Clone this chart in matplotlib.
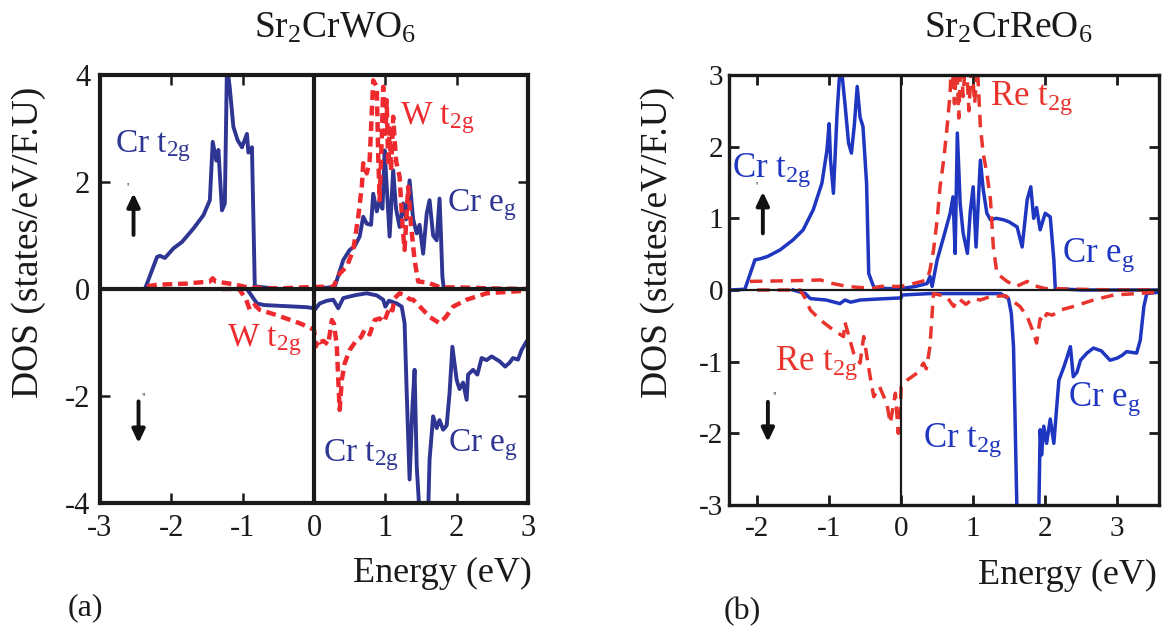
import matplotlib
matplotlib.use("Agg")
import matplotlib.pyplot as plt

plt.rcParams['font.family'] = ['Liberation Serif', 'DejaVu Serif']
plt.rcParams['mathtext.fontset'] = 'custom'
plt.rcParams['mathtext.rm'] = 'Liberation Serif'
plt.rcParams['mathtext.it'] = 'Liberation Serif:italic'
plt.rcParams['mathtext.bf'] = 'Liberation Serif:bold'

# ---------------- data: panel (a) Sr2CrWO6 ----------------
a_cr_up_E = [-2.6, -2.37, -2.20, -2.16, -2.09, -1.97, -1.85, -1.69, -1.55, -1.46, -1.42, -1.37, -1.34,
             -1.29, -1.25, -1.22, -1.18, -1.13, -1.07, -1.01, -0.94, -0.92, -0.87, -0.83, -0.5, 0.0,
             0.29, 0.41, 0.50, 0.57, 0.64, 0.69, 0.74, 0.80, 0.83, 0.88, 0.92, 0.96, 0.99, 1.02, 1.06,
             1.11, 1.15, 1.20, 1.25, 1.29, 1.34, 1.39, 1.44, 1.48, 1.53, 1.58, 1.62, 1.67, 1.72, 1.76,
             1.78, 1.80, 1.82, 2.5, 3.0]
a_cr_up_D = [0, 0, 0.6, 0.62, 0.58, 0.76, 0.88, 1.13, 1.38, 1.66, 2.75, 2.4, 2.6,
             1.47, 1.6, 4.2, 3.75, 3.03, 2.78, 2.65, 2.9, 2.55, 2.65, 0.05, 0, 0,
             0.04, 0.54, 0.73, 0.8, 0.98, 1.35, 1.22, 1.2, 1.78, 1.45, 1.66, 1.5, 2.59, 1.9, 0.98,
             2.22, 1.5, 1.16, 1.6, 1.3, 2.03, 1.3, 1.04, 1.2, 0.66, 1.41, 1.66, 1.0, 0.91, 1.69,
             1.0, 0.23, 0, 0, 0]

a_cr_dn_E = [-1.2, -0.94, -0.80, -0.70, -0.4, -0.1, 0.0, 0.01, 0.08, 0.18, 0.27, 0.34, 0.41, 0.5,
             0.6, 0.74, 0.88, 0.97, 1.0, 1.05, 1.16, 1.23, 1.27, 1.30, 1.34, 1.38, 1.41, 1.44, 1.48,
             1.6, 1.62, 1.67, 1.72, 1.76, 1.81, 1.86, 1.90, 1.94, 2.0, 2.04, 2.09, 2.14, 2.16, 2.23,
             2.29, 2.35, 2.42, 2.49, 2.6, 2.68, 2.74, 2.79, 2.86, 2.91, 2.98, 3.0]
a_cr_dn_D = [0, 0, -0.27, -0.30, -0.32, -0.34, -0.36, -0.39, -0.27, -0.22, -0.2, -0.36, -0.17, -0.14,
             -0.11, -0.08, -0.12, -0.2, -0.33, -0.22, -0.27, -0.33, -0.64, -1.95, -3.56, -2.2, -1.51, -3.31, -4.2,
             -4.2, -3.19, -2.38, -2.6, -2.45, -2.63, -2.55, -1.95, -1.08, -1.70, -1.87, -1.75, -2.07, -1.6, -1.51,
             -1.6, -1.29, -1.33, -1.26, -1.35, -1.45, -1.38, -1.29, -1.32, -1.14, -0.98, -0.95]

a_w_up_E = [-2.34, -2.2, -1.8, -1.46, -1.42, -1.38, -1.13, -0.93, -0.5, 0.0, 0.27, 0.36, 0.46, 0.55,
            0.62, 0.67, 0.69, 0.74, 0.78, 0.80, 0.83, 0.88, 0.90, 0.92, 0.95, 0.97, 1.0, 1.02, 1.04,
            1.06, 1.08, 1.11, 1.15, 1.2, 1.24, 1.27, 1.32, 1.36, 1.41, 1.46, 1.6, 1.77, 2.0, 2.5, 3.0]
a_w_up_D = [0.05, 0.08, 0.1, 0.14, 0.2, 0.14, 0.09, 0.03, 0.01, 0.04, 0.04, 0.29, 0.42, 0.73,
            1.35, 1.91, 2.35, 2.16, 2.4, 3.0, 3.9, 3.78, 2.5, 1.66, 2.8, 3.78, 2.9, 3.53, 2.3,
            3.0, 2.2, 3.22, 2.4, 2.1, 1.2, 0.73, 1.91, 1.2, 0.54, 0.14, 0.12, 0.03, 0.03, 0.01, 0.0]

a_w_dn_E = [-1.3, -1.05, -0.95, -0.9, -0.83, -0.76, -0.52, -0.2, 0.0, 0.03, 0.04, 0.08, 0.13, 0.2,
            0.25, 0.28, 0.32, 0.34, 0.36, 0.39, 0.43, 0.5, 0.6, 0.66, 0.71, 0.78, 0.85, 0.92, 0.98,
            1.03, 1.06, 1.1, 1.13, 1.2, 1.28, 1.34, 1.39, 1.5, 1.62, 1.76, 1.85, 1.95, 2.14, 2.42,
            2.98, 3.0]
a_w_dn_D = [0, 0, -0.2, -0.39, -0.3, -0.39, -0.49, -0.64, -0.76, -1.07, -0.95, -1.0, -0.97, -1.04,
            -0.58, -0.65, -1.07, -1.70, -2.26, -1.7, -1.39, -1.14, -0.95, -0.9, -0.76, -0.85, -0.58, -0.55, -0.62,
            -0.45, -0.33, -0.4, -0.17, -0.08, -0.12, -0.19, -0.2, -0.35, -0.52, -0.64, -0.52, -0.33, -0.2, -0.08,
            -0.03, -0.03]

# ---------------- data: panel (b) Sr2CrReO6 ----------------
b_cr_up_E = [-2.39, -2.17, -2.03, -1.94, -1.85, -1.68, -1.50, -1.36, -1.22, -1.10, -1.03, -1.0, -0.98,
             -0.94, -0.89, -0.86, -0.83, -0.78, -0.73, -0.69, -0.65, -0.61, -0.57, -0.53, -0.48, -0.45,
             -0.38, -0.2, 0.0, 0.2, 0.36, 0.40, 0.43, 0.50, 0.59, 0.68, 0.72, 0.75, 0.78, 0.82, 0.86,
             0.92, 0.96, 1.0, 1.04, 1.10, 1.14, 1.19, 1.24, 1.32, 1.42, 1.5, 1.61, 1.68, 1.75, 1.80,
             1.84, 1.88, 1.93, 2.0, 2.07, 2.12, 2.14, 2.5, 3.58]
b_cr_up_D = [0, 0.01, 0.42, 0.44, 0.47, 0.56, 0.70, 0.84, 1.12, 1.49, 1.95, 2.32, 1.81,
             1.35, 2.46, 2.93, 3.1, 2.6, 2.05, 1.91, 2.3, 2.84, 2.41, 2.28, 1.49, 0.23,
             0.04, 0.02, 0.02, 0.05, 0.09, 0.19, 0.05, 0.42, 0.74, 1.07, 1.3, 0.51, 2.19, 1.2, 0.8,
             0.51, 1.1, 1.44, 0.6, 1.81, 1.4, 1.07, 0.98, 1.0, 0.98, 0.95, 0.88, 0.6, 1.26, 1.44,
             1.0, 1.15, 0.84, 1.07, 1.02, 0.42, 0.02, 0.0, 0.0]

b_re_up_E = [-2.1, -1.5, -1.12, -1.0, -0.75, -0.4, -0.29, 0.0, 0.17, 0.36, 0.40, 0.45, 0.50, 0.54,
             0.59, 0.63, 0.68, 0.70, 0.74, 0.77, 0.80, 0.83, 0.86, 0.90, 0.94, 0.98, 1.02, 1.06, 1.10,
             1.14, 1.19, 1.24, 1.28, 1.33, 1.47, 1.6, 1.75, 1.85, 2.0, 3.0, 3.58]
b_re_up_D = [0.12, 0.13, 0.14, 0.1, 0.05, 0.02, 0.05, 0.05, 0.09, 0.14, 0.28, 0.56, 0.98, 1.44,
             1.81, 2.19, 2.74, 3.3, 2.6, 3.2, 2.4, 3.3, 2.7, 3.3, 2.5, 3.2, 2.6, 3.1, 2.28,
             1.9, 1.63, 1.26, 0.6, 0.23, 0.12, 0.05, 0.12, 0.06, 0.02, 0.0, 0.0]

b_cr_dn_E = [-1.5, -1.33, -1.26, -1.04, -0.85, -0.78, -0.7, -0.57, -0.4, -0.2, 0.0, 0.01, 0.4, 0.7,
             1.0, 1.38, 1.49, 1.53, 1.56, 1.58, 1.61, 1.91, 1.93, 1.95, 1.98, 2.02, 2.07, 2.12, 2.16,
             2.19, 2.26, 2.30, 2.35, 2.39, 2.44, 2.49, 2.58, 2.67, 2.78, 2.90, 3.0, 3.07, 3.13, 3.27,
             3.32, 3.37, 3.41, 3.58]
b_cr_dn_D = [0, -0.05, -0.12, -0.14, -0.19, -0.14, -0.17, -0.14, -0.13, -0.12, -0.11, -0.07, -0.05, -0.05,
             -0.05, -0.05, -0.12, -0.33, -0.79, -1.72, -3.2, -3.2, -1.95, -2.3, -1.9, -2.14, -1.8, -2.14, -1.63,
             -1.26, -1.07, -0.95, -0.79, -1.21, -1.15, -0.98, -0.88, -0.81, -0.85, -0.98, -0.95, -0.91, -0.86, -0.88,
             -0.70, -0.23, -0.05, -0.03]

b_re_dn_E = [-2.0, -1.4, -1.33, -1.26, -1.12, -0.94, -0.8, -0.78, -0.66, -0.57, -0.52, -0.43, -0.38,
             -0.3, -0.2, -0.15, -0.08, -0.04, -0.01, 0.0, 0.08, 0.22, 0.31, 0.35, 0.40, 0.43, 0.45,
             0.63, 0.73, 0.8, 0.9, 1.0, 1.1, 1.24, 1.45, 1.65, 1.75, 1.84, 1.88, 1.93, 1.97, 2.02,
             2.1, 2.21, 2.39, 2.67, 2.95, 3.27, 3.41, 3.58]
b_re_dn_D = [0, 0, -0.12, -0.28, -0.42, -0.56, -0.65, -0.45, -0.88, -1.02, -0.65, -1.21, -1.49,
             -1.35, -1.58, -1.86, -1.44, -2.0, -1.63, -1.35, -1.26, -1.16, -1.02, -1.1, -0.79, -0.33, -0.05,
             -0.09, -0.23, -0.12, -0.2, -0.12, -0.14, -0.09, -0.08, -0.23, -0.37, -0.6, -0.74, -0.4, -0.45, -0.33,
             -0.35, -0.28, -0.23, -0.14, -0.07, -0.05, -0.04, -0.03]

a_xticks = [-3, -2, -1, 0, 1, 2, 3]
a_yticks = [-4, -2, 0, 2, 4]
b_xticks = [-2, -1, 0, 1, 2, 3]
b_yticks = [-3, -2, -1, 0, 1, 2, 3]

titles = [r'Sr$_2$CrWO$_6$', r'Sr$_2$CrReO$_6$']
ylabel = 'DOS (states/eV/F.U)'
xlabel = 'Energy (eV)'

# ---------------- figure ----------------
W, H = 1171, 634
fig = plt.figure(figsize=(W / 100, H / 100), dpi=100)

def px_axes(x0, y0, x1, y1):
    return fig.add_axes([x0 / W, 1 - y1 / H, (x1 - x0) / W, (y1 - y0) / H])

axA = px_axes(100, 75, 528, 503)
axB = px_axes(729, 75, 1159, 505)

blueA, redA = '#2e3592', '#ee2a2e'
blueB, redB = '#1f36c0', '#e8342c'
ink = '#1a1a1a'

# panel a
axA.plot(a_cr_up_E, a_cr_up_D, color=blueA, lw=2.8, zorder=2)
axA.plot(a_cr_dn_E, a_cr_dn_D, color=blueA, lw=2.8, zorder=2)
axA.plot(a_w_up_E, a_w_up_D, color=redA, lw=3.2, dashes=(2.2, 1.3), zorder=2.5)
axA.plot(a_w_dn_E, a_w_dn_D, color=redA, lw=3.2, dashes=(2.2, 1.3), zorder=2.5)
axA.axhline(0, color=ink, lw=3.0, zorder=3)
axA.axvline(0, color=ink, lw=3.0, zorder=3)
axA.set_xlim(-3, 3)
axA.set_ylim(-4, 4)
axA.set_xticks(a_xticks)
axA.set_yticks(a_yticks)
axA.set_xticklabels([str(v) for v in a_xticks])
axA.set_yticklabels([str(v) for v in a_yticks])
for s in axA.spines.values():
    s.set_linewidth(3.0)
    s.set_color(ink)
axA.tick_params(direction='in', length=7, width=1.8, top=True, right=True,
                labelsize=22, color=ink, labelcolor=ink)
axA.tick_params(axis='x', pad=8)
axA.tick_params(axis='y', pad=7)

# panel b
axB.plot(b_cr_up_E, b_cr_up_D, color=blueB, lw=2.5, zorder=2)
axB.plot(b_cr_dn_E, b_cr_dn_D, color=blueB, lw=2.5, zorder=2)
axB.plot(b_re_up_E, b_re_up_D, color=redB, lw=2.5, dashes=(3.6, 2.3), zorder=2.5)
axB.plot(b_re_dn_E, b_re_dn_D, color=redB, lw=2.5, dashes=(3.6, 2.3), zorder=2.5)
axB.axhline(0, color=ink, lw=1.6, zorder=3)
axB.axvline(0, color=ink, lw=1.6, zorder=3)
axB.set_xlim(-2.39, 3.58)
axB.set_ylim(-3, 3)
axB.set_xticks(b_xticks)
axB.set_yticks(b_yticks)
axB.set_xticklabels([str(v) for v in b_xticks])
axB.set_yticklabels([str(v) for v in b_yticks])
for s in axB.spines.values():
    s.set_linewidth(2.4)
    s.set_color(ink)
axB.tick_params(direction='in', length=7, width=2.0, top=True, right=True,
                labelsize=21, color=ink, labelcolor=ink)
axB.tick_params(axis='x', pad=8)
axB.tick_params(axis='y', pad=4)

# in-panel labels (a)
lab_kw = dict(fontsize=24, va='center', ha='left')
axA.text(-2.79, 2.67, r'Cr t$_\mathrm{2g}$', color=blueA, **lab_kw)
axA.text(1.2, 3.19, r'W t$_\mathrm{2g}$', color=redA, **lab_kw)
axA.text(1.86, 1.57, r'Cr e$_\mathrm{g}$', color=blueA, **lab_kw)
axA.text(-1.22, -0.95, r'W t$_\mathrm{2g}$', color=redA, **lab_kw)
axA.text(0.13, -3.1, r'Cr t$_\mathrm{2g}$', color=blueA, **lab_kw)
axA.text(1.88, -2.91, r'Cr e$_\mathrm{g}$', color=blueA, **lab_kw)

# in-panel labels (b)
labB = dict(fontsize=25, va='center', ha='left')
axB.text(-2.35, 1.67, r'Cr t$_\mathrm{2g}$', color=blueB, **labB)
axB.text(1.24, 2.68, r'Re t$_\mathrm{2g}$', color=redB, **labB)
axB.text(2.24, 0.49, r'Cr e$_\mathrm{g}$', color=blueB, **labB)
axB.text(-1.75, -1.02, r'Re t$_\mathrm{2g}$', color=redB, **labB)
axB.text(0.31, -2.09, r'Cr t$_\mathrm{2g}$', color=blueB, **labB)
axB.text(2.32, -1.53, r'Cr e$_\mathrm{g}$', color=blueB, **labB)

# spin arrows
arr = dict(arrowstyle='-|>,head_width=0.38,head_length=0.8', color='#111111', lw=2.8,
           shrinkA=0, shrinkB=0)
axA.annotate('', xy=(-2.53, 1.79), xytext=(-2.53, 1.01), arrowprops=arr)
axA.annotate('', xy=(-2.46, -2.88), xytext=(-2.46, -2.10), arrowprops=arr)
axB.annotate('', xy=(-1.92, 1.37), xytext=(-1.92, 0.79), arrowprops=arr)
axB.annotate('', xy=(-1.85, -2.12), xytext=(-1.85, -1.56), arrowprops=arr)
# faint marks next to the arrows
axA.text(-2.62, 1.88, "'", fontsize=9, color='#333333', ha='center', va='center')
axA.text(-2.39, -2.03, "''", fontsize=9, color='#666666', ha='center', va='center')
axB.text(-2.0, 1.44, "'", fontsize=9, color='#333333', ha='center', va='center')
axB.text(-1.75, -1.49, "''", fontsize=9, color='#666666', ha='center', va='center')

# titles, axis labels, panel tags
fig.text(335 / W, 1 - 28 / H, titles[0], fontsize=27, ha='center', va='center', color=ink)
fig.text(1008 / W, 1 - 28 / H, titles[1], fontsize=27, ha='center', va='center', color=ink)
fig.text(29 / W, 1 - 242 / H, ylabel, fontsize=27, rotation=90, ha='center', va='center', color=ink)
fig.text(658 / W, 1 - 242 / H, ylabel, fontsize=27, rotation=90, ha='center', va='center', color=ink)
fig.text(532 / W, 1 - 573 / H, xlabel, fontsize=26, ha='right', va='center', color=ink)
fig.text(1157 / W, 1 - 575 / H, xlabel, fontsize=26, ha='right', va='center', color=ink)
fig.text(85 / W, 1 - 608 / H, '(a)', fontsize=23, ha='center', va='center', color=ink)
fig.text(742 / W, 1 - 612 / H, '(b)', fontsize=23, ha='center', va='center', color=ink)

fig.savefig('out.png', dpi=100)
